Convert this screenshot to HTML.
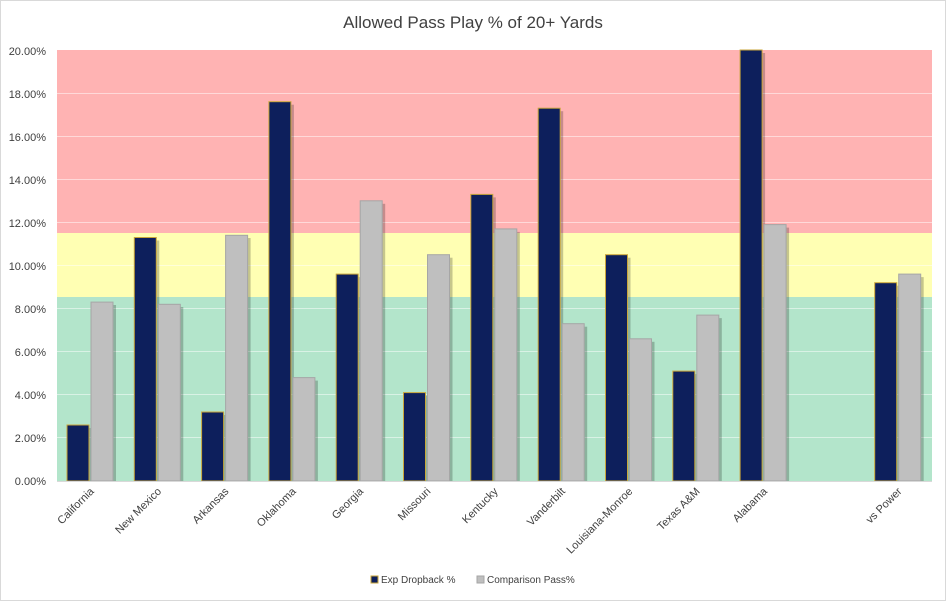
<!DOCTYPE html>
<html><head><meta charset="utf-8"><style>body{margin:0;background:#fff}</style></head><body>
<svg width="946" height="601" xmlns="http://www.w3.org/2000/svg" font-family="Liberation Sans, sans-serif">
<defs>
<g id="n"></g>
</defs>
<rect x="0.5" y="0.5" width="945" height="600" fill="#fff" stroke="#d9d9d9"/>
<text x="473" y="28" font-size="17" fill="#404040" text-anchor="middle">Allowed Pass Play % of 20+ Yards</text>
<rect x="57" y="50" width="875" height="183" fill="#ffb3b3"/>
<rect x="57" y="233" width="875" height="64" fill="#ffffb3"/>
<rect x="57" y="297" width="875" height="184" fill="#b3e5cb"/>
<g stroke="#ffffff" stroke-opacity="0.5" stroke-width="1">
<line x1="57" x2="932" y1="93.5" y2="93.5"/><line x1="57" x2="932" y1="136.5" y2="136.5"/><line x1="57" x2="932" y1="179.5" y2="179.5"/><line x1="57" x2="932" y1="222.5" y2="222.5"/><line x1="57" x2="932" y1="265.5" y2="265.5"/><line x1="57" x2="932" y1="308.5" y2="308.5"/><line x1="57" x2="932" y1="351.5" y2="351.5"/><line x1="57" x2="932" y1="394.5" y2="394.5"/><line x1="57" x2="932" y1="437.5" y2="437.5"/>
</g>
<g font-size="11" fill="#404040" text-anchor="end">
<text x="46" y="485">0.00%</text><text x="46" y="442">2.00%</text><text x="46" y="399">4.00%</text><text x="46" y="356">6.00%</text><text x="46" y="313">8.00%</text><text x="46" y="270">10.00%</text><text x="46" y="227">12.00%</text><text x="46" y="184">14.00%</text><text x="46" y="141">16.00%</text><text x="46" y="98">18.00%</text><text x="46" y="55">20.00%</text>
</g>
<!-- shadows -->
<g fill="#000" opacity="0.22">
<rect x="94" y="305" width="22" height="176"/><rect x="70" y="428" width="22" height="53"/>
<rect x="161.3" y="307" width="22" height="174"/><rect x="137.3" y="240.5" width="22" height="240.5"/>
<rect x="228.6" y="238" width="22" height="243"/><rect x="204.6" y="415" width="22" height="66"/>
<rect x="295.9" y="380.6" width="22" height="100.4"/><rect x="271.9" y="104.7" width="22" height="376.3"/>
<rect x="363.2" y="203.8" width="22" height="277.2"/><rect x="339.2" y="277.1" width="22" height="203.9"/>
<rect x="430.5" y="257.7" width="22" height="223.3"/><rect x="406.5" y="395.6" width="22" height="85.4"/>
<rect x="497.8" y="231.9" width="22" height="249.1"/><rect x="473.8" y="197.4" width="22" height="283.6"/>
<rect x="565.2" y="326.7" width="22" height="154.3"/><rect x="541.2" y="111.2" width="22" height="369.8"/>
<rect x="632.5" y="341.8" width="22" height="139.2"/><rect x="608.5" y="257.7" width="22" height="223.3"/>
<rect x="699.8" y="318.1" width="22" height="162.9"/><rect x="675.8" y="374.1" width="22" height="106.9"/>
<rect x="767.1" y="227.6" width="22" height="253.4"/><rect x="743.1" y="53" width="22" height="428"/>
<rect x="901.7" y="277.1" width="22" height="203.9"/><rect x="877.7" y="285.7" width="22" height="195.3"/>
</g>
<g fill="#bfbfbf" stroke="#a6a6a6">
<rect x="91" y="302.1" width="22" height="178.9"/>
<rect x="158.3" y="304.3" width="22" height="176.7"/>
<rect x="225.6" y="235.3" width="22" height="245.7"/>
<rect x="292.9" y="377.6" width="22" height="103.4"/>
<rect x="360.2" y="200.8" width="22" height="280.2"/>
<rect x="427.5" y="254.7" width="22" height="226.3"/>
<rect x="494.8" y="228.9" width="22" height="252.1"/>
<rect x="562.2" y="323.7" width="22" height="157.3"/>
<rect x="629.5" y="338.8" width="22" height="142.2"/>
<rect x="696.8" y="315.1" width="22" height="165.9"/>
<rect x="764.1" y="224.6" width="22" height="256.4"/>
<rect x="898.7" y="274.1" width="22" height="206.9"/>
</g>
<g fill="#0d1f5c" stroke="#c9a53a">
<rect x="67" y="425" width="22" height="56"/>
<rect x="134.3" y="237.5" width="22" height="243.5"/>
<rect x="201.6" y="412" width="22" height="69"/>
<rect x="268.9" y="101.7" width="22" height="379.3"/>
<rect x="336.2" y="274.1" width="22" height="206.9"/>
<rect x="403.5" y="392.6" width="22" height="88.4"/>
<rect x="470.8" y="194.4" width="22" height="286.6"/>
<rect x="538.2" y="108.2" width="22" height="372.8"/>
<rect x="605.5" y="254.7" width="22" height="226.3"/>
<rect x="672.8" y="371.1" width="22" height="109.9"/>
<rect x="740.1" y="50" width="22" height="431"/>
<rect x="874.7" y="282.7" width="22" height="198.3"/>
</g>
<line x1="57" x2="932" y1="481.5" y2="481.5" stroke="#d9d9d9"/>
<g font-size="11" fill="#404040" text-anchor="end">
<text transform="translate(94.6,492) rotate(-45)">California</text>
<text transform="translate(162,492) rotate(-45)">New Mexico</text>
<text transform="translate(229.3,492) rotate(-45)">Arkansas</text>
<text transform="translate(296.6,492) rotate(-45)">Oklahoma</text>
<text transform="translate(363.9,492) rotate(-45)">Georgia</text>
<text transform="translate(431.2,492) rotate(-45)">Missouri</text>
<text transform="translate(498.5,492) rotate(-45)">Kentucky</text>
<text transform="translate(565.8,492) rotate(-45)">Vanderbilt</text>
<text transform="translate(633.2,492) rotate(-45)">Louisiana-Monroe</text>
<text transform="translate(700.5,492) rotate(-45)">Texas A&amp;M</text>
<text transform="translate(767.8,492) rotate(-45)">Alabama</text>
<text transform="translate(902.4,492) rotate(-45)">vs Power</text>
</g>
<rect x="371" y="576" width="7" height="7" fill="#0d1f5c" stroke="#c9a53a"/>
<text x="381" y="583" font-size="10" fill="#404040">Exp Dropback %</text>
<rect x="477" y="576" width="7" height="7" fill="#bfbfbf" stroke="#a6a6a6"/>
<text x="487" y="583" font-size="10" fill="#404040">Comparison Pass%</text>
</svg>
</body></html>
